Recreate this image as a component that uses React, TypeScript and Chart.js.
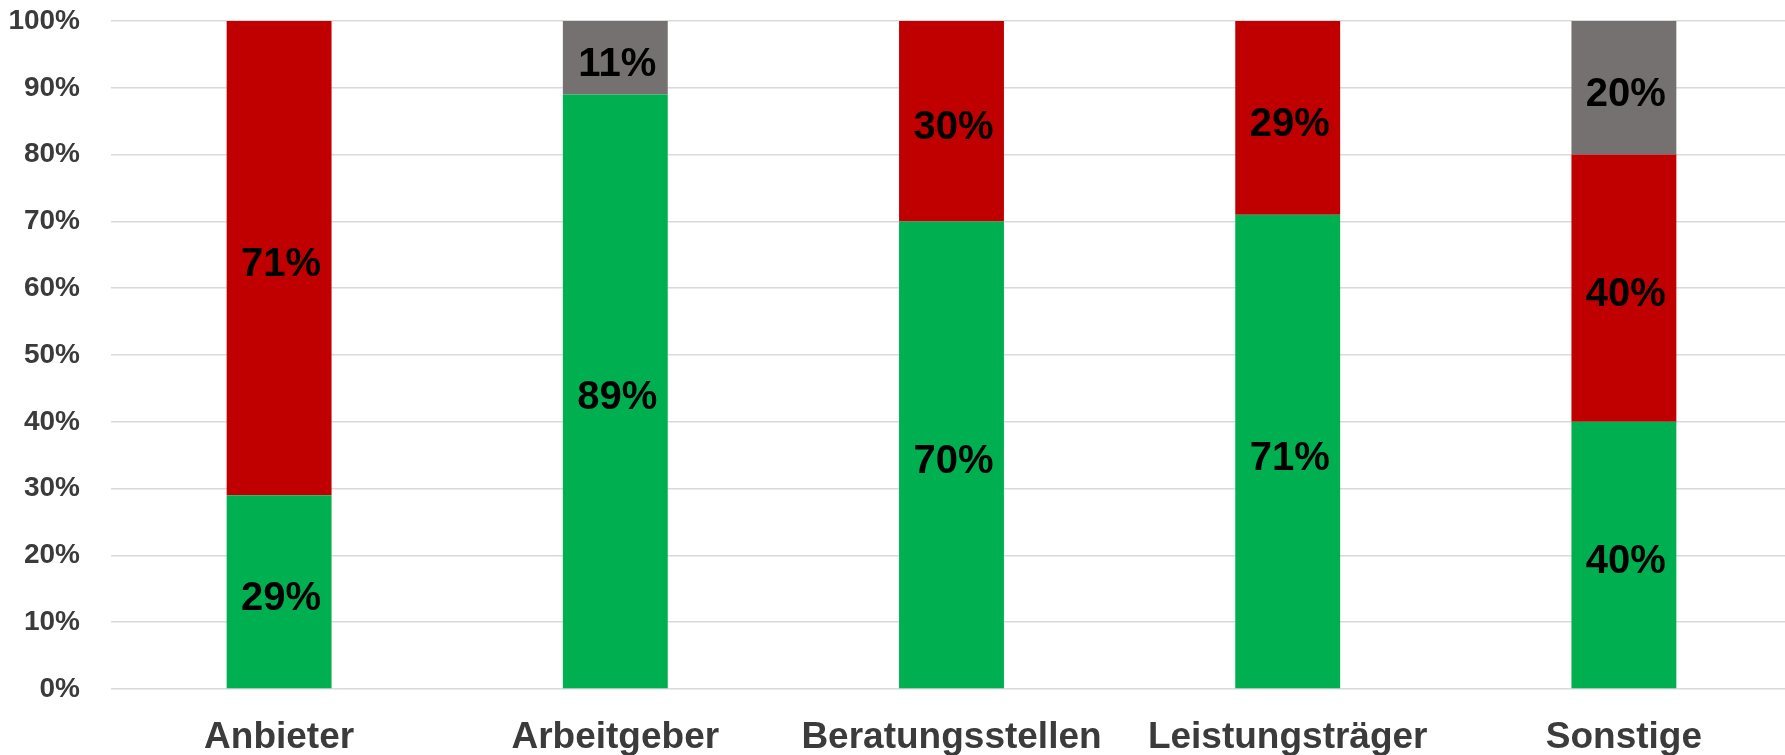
import React, { useEffect, useRef } from "react";
import { Chart, registerables } from "chart.js";

Chart.register(...registerables);

const categories = ["Anbieter", "Arbeitgeber", "Beratungsstellen", "Leistungsträger", "Sonstige"];
const greenValues = [29, 89, 70, 71, 40];
const redValues = [71, 0, 30, 29, 40];
const greyValues = [0, 11, 0, 0, 20];
const yTickValues = [0, 10, 20, 30, 40, 50, 60, 70, 80, 90, 100];

const FONT = "'Liberation Sans', Arial, sans-serif";

const labelPlugin = {
  id: "segmentLabels",
  afterDatasetsDraw(chart: any) {
    const ctx = chart.ctx;
    ctx.save();
    ctx.font = `bold 40px ${FONT}`;
    ctx.fillStyle = "#000000";
    ctx.textAlign = "center";
    ctx.textBaseline = "middle";
    chart.data.datasets.forEach((ds: any, di: number) => {
      const meta = chart.getDatasetMeta(di);
      meta.data.forEach((el: any, i: number) => {
        const v = ds.data[i];
        if (!v) return;
        const y = (el.y + el.base) / 2;
        ctx.fillText(`${v}%`, el.x + 2, y + 7);
      });
    });
    ctx.restore();
  },
};

export default function App() {
  const ref = useRef<HTMLCanvasElement>(null);
  useEffect(() => {
    if (!ref.current) return;
    const chart = new Chart(ref.current, {
      type: "bar",
      data: {
        labels: categories,
        datasets: [
          { label: "Ja", data: greenValues, backgroundColor: "#00B050", barPercentage: 0.312, categoryPercentage: 1 },
          { label: "Nein", data: redValues, backgroundColor: "#C00000", barPercentage: 0.312, categoryPercentage: 1 },
          { label: "Keine Angabe", data: greyValues, backgroundColor: "#767171", barPercentage: 0.312, categoryPercentage: 1 },
        ],
      },
      options: {
        responsive: false,
        animation: false,
        devicePixelRatio: 1,
        layout: { padding: { top: 21, right: 0, bottom: 0, left: 0 } },
        plugins: { legend: { display: false }, tooltip: { enabled: false } },
        scales: {
          x: {
            stacked: true,
            grid: { display: false, drawTicks: false },
            border: { display: false },
            ticks: {
              color: "#3b3b3b",
              font: { family: FONT, size: 37, weight: "bold", lineHeight: 1 },
              padding: 30,
              maxRotation: 0,
              autoSkip: false,
            },
            afterFit: (s: any) => { s.height = 66; },
          },
          y: {
            stacked: true,
            min: 0,
            max: 100,
            afterBuildTicks: (s: any) => { s.ticks = yTickValues.map((v) => ({ value: v })); },
            grid: { color: "#d9d9d9", lineWidth: 1.5, drawTicks: true, tickLength: 28, tickColor: "rgba(0,0,0,0)" },
            border: { display: false },
            ticks: {
              color: "#3b3b3b",
              font: { family: FONT, size: 28, weight: "bold", lineHeight: 1 },
              padding: 3,
              callback: (v: any) => `${v}%`,
            },
            afterFit: (s: any) => { s.width = 111; },
          },
        },
      },
      plugins: [labelPlugin],
    });
    return () => chart.destroy();
  }, []);
  return (
    <div style={{ position: "fixed", left: 0, top: 0, width: 1785, height: 755, overflow: "hidden", background: "#fff" }}>
      <canvas ref={ref} width={1792} height={755} style={{ width: 1792, height: 755, display: "block" }} />
    </div>
  );
}
